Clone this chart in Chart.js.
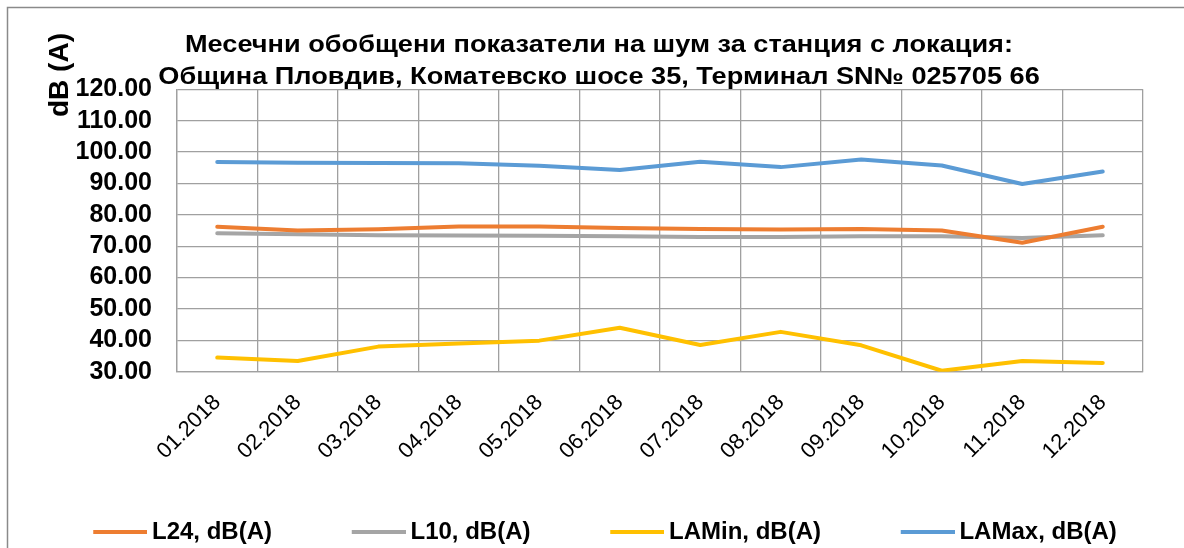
<!DOCTYPE html>
<html>
<head>
<meta charset="utf-8">
<script src="https://cdn.jsdelivr.net/npm/chart.js@4/dist/chart.umd.min.js"></script>
<style>
  html, body { margin: 0; padding: 0; background: #ffffff; }
  #wrap { width: 1184px; height: 548px; }
</style>
</head>
<body>
<div id="wrap"><canvas id="c" width="1184" height="548"></canvas></div>
<script>
const titleLines = [
  'Месечни обобщени показатели на шум за станция с локация:',
  'Община Пловдив, Коматевско шосе 35, Терминал SN№ 025705 66'
];
const yAxisTitle = 'dB (A)';
const months = ['01.2018','02.2018','03.2018','04.2018','05.2018','06.2018','07.2018','08.2018','09.2018','10.2018','11.2018','12.2018'];
const seriesNames = ['L24, dB(A)', 'L10, dB(A)', 'LAMin, dB(A)', 'LAMax, dB(A)'];
const l24  = [76.2, 75.0, 75.4, 76.3, 76.3, 75.8, 75.5, 75.3, 75.5, 75.0, 71.1, 76.2];
const l10  = [74.1, 73.8, 73.5, 73.4, 73.3, 73.2, 72.9, 72.9, 73.2, 73.2, 72.6, 73.5];
const laMin = [34.5, 33.4, 38.0, 39.0, 39.9, 44.0, 38.5, 42.7, 38.4, 30.3, 33.4, 32.8];
const laMax = [96.8, 96.6, 96.5, 96.4, 95.6, 94.3, 96.9, 95.2, 97.6, 95.7, 89.8, 93.8];
const yMin = 30, yMax = 120, yStep = 10;
const colors = ['#ED7D31', '#A5A5A5', '#FFC000', '#5B9BD5'];

const FONT = '"Liberation Sans", Arial, sans-serif';
const gridColor = '#a0a0a0';

// legend line samples (54px long line, offset inside a wider sprite)
const LEG_W = 86.5;
function legendSprite(color) {
  const c = document.createElement('canvas');
  c.width = 101; c.height = 4;
  const g = c.getContext('2d');
  g.fillStyle = color;
  g.fillRect(47, 0, 54, 4);
  return c;
}
const legendSprites = colors.map(legendSprite);

const decorPlugin = {
  id: 'decor',
  beforeDraw(chart) {
    const ctx = chart.ctx;
    ctx.save();
    ctx.fillStyle = '#ffffff';
    ctx.fillRect(0, 0, chart.width, chart.height);
    ctx.strokeStyle = '#8a8a8a';
    ctx.lineWidth = 1.5;
    ctx.strokeRect(7.5, 7.5, 1400, 800);
    ctx.restore();
  },
  afterDraw(chart) {
    const ctx = chart.ctx;
    ctx.save();
    ctx.fillStyle = '#000000';
    ctx.font = 'bold 23px ' + FONT;
    ctx.textAlign = 'center';
    ctx.textBaseline = 'alphabetic';
    ctx.save();
    ctx.translate(599, 0);
    ctx.scale(1.18, 1);
    ctx.fillText(titleLines[0], 0, 52);
    ctx.fillText(titleLines[1], 0, 84);
    ctx.restore();
    ctx.translate(68, 75);
    ctx.rotate(-Math.PI / 2);
    ctx.font = 'bold 28px ' + FONT;
    ctx.fillText(yAxisTitle, 0, 0);
    ctx.restore();
  }
};

const seriesData = [l24, l10, laMin, laMax];
new Chart(document.getElementById('c'), {
  type: 'line',
  data: {
    labels: months,
    datasets: seriesNames.map((name, i) => ({
      label: name,
      data: seriesData[i],
      borderColor: colors[i],
      backgroundColor: colors[i],
      borderWidth: 4,
      pointRadius: 0,
      pointHoverRadius: 0,
      tension: 0,
      borderCapStyle: 'round',
      borderJoinStyle: 'round',
      fill: false
    }))
  },
  options: {
    responsive: false,
    animation: false,
    devicePixelRatio: 1,
    layout: { padding: { left: 13.5, right: 0, top: 89.3, bottom: -6 } },
    scales: {
      x: {
        type: 'category',
        offset: true,
        grid: { display: true, offset: true, color: gridColor, lineWidth: 1.3, drawTicks: false },
        border: { display: true, color: gridColor, width: 1.3 },
        ticks: {
          minRotation: 45, maxRotation: 45, autoSkip: false,
          padding: 18,
          color: '#000000',
          font: { family: FONT, size: 22, weight: 'normal' }
        },
        afterFit(scale) { scale.height = 108.3; }
      },
      y: {
        min: yMin, max: yMax,
        grid: { color: gridColor, lineWidth: 1.3, drawTicks: false },
        border: { display: true, color: gridColor, width: 1.3 },
        ticks: {
          stepSize: yStep,
          autoSkip: false,
          padding: 25,
          color: '#000000',
          font: { family: FONT, size: 25, weight: 'bold' },
          callback: (v) => Number(v).toFixed(2)
        },
        afterFit(scale) { scale.width = 163.5; }
      },
      yRightSpace: {
        type: 'linear',
        position: 'right',
        display: true,
        grid: { display: false, drawTicks: false },
        border: { display: false },
        ticks: { display: false },
        afterFit(scale) { scale.width = 41; }
      }
    },
    plugins: {
      title: { display: false },
      tooltip: { enabled: false },
      legend: {
        display: true,
        position: 'bottom',
        align: 'start',
        labels: {
          usePointStyle: true,
          pointStyleWidth: LEG_W,
          padding: 40,
          color: '#000000',
          font: { family: FONT, size: 24, weight: 'bold' },
          generateLabels(chart) {
            const items = Chart.defaults.plugins.legend.labels.generateLabels(chart);
            items.forEach((it, i) => { it.pointStyle = legendSprites[i]; });
            return items;
          }
        }
      }
    }
  },
  plugins: [decorPlugin]
});
</script>
</body>
</html>
